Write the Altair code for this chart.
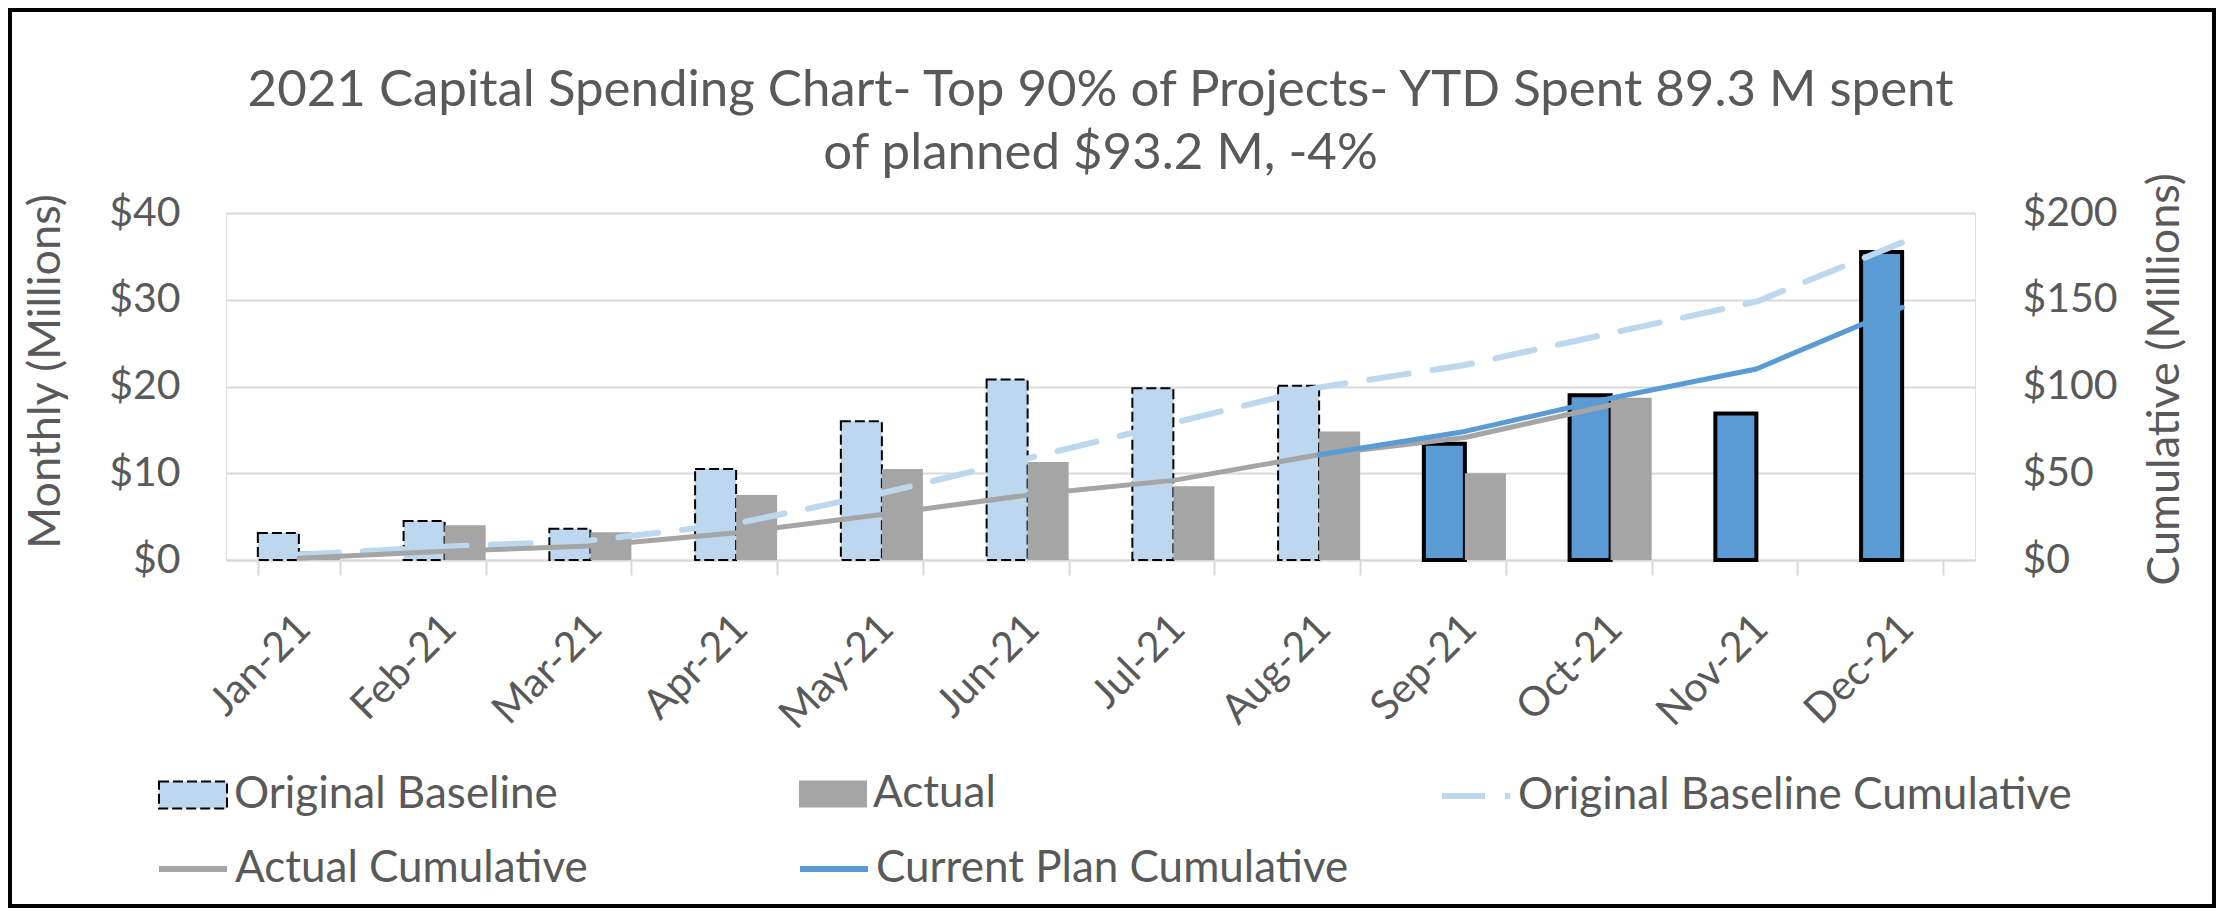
import altair as alt
import pandas as pd

# ---------------- data ----------------
months = ["Jan-21", "Feb-21", "Mar-21", "Apr-21", "May-21", "Jun-21",
          "Jul-21", "Aug-21", "Sep-21", "Oct-21", "Nov-21", "Dec-21"]

original_baseline = [3.1, 4.5, 3.6, 10.5, 16.0, 20.8, 19.8, 20.1, None, None, None, None]
current_plan = [None, None, None, None, None, None, None, None, 13.4, 19.0, 16.9, 35.5]
actual = [1.0, 4.0, 3.2, 7.5, 10.5, 11.3, 8.5, 14.8, 10.0, 18.7, None, None]

original_baseline_cum = [3.1, 7.6, 11.2, 21.0, 38.5, 58.6, 79.0, 99.5, 112.4, 130.7, 148.9, 183.0]
actual_cum = [1.0, 5.0, 8.1, 15.7, 26.2, 37.4, 45.9, 60.7, 70.6, 89.3, None, None]
current_plan_cum = [None, None, None, None, None, None, None, 60.7, 74.1, 93.2, 110.1, 145.6]

bar_series = ["Original Baseline", "Actual"]
bar_colors = ["#BDD7EE", "#A5A5A5"]
plan_bar_color = "#5B9BD5"
line_series = ["Original Baseline Cumulative", "Actual Cumulative", "Current Plan Cumulative"]
line_colors = ["#BDD7EE", "#A5A5A5", "#5B9BD5"]

left_ticks = [0, 10, 20, 30, 40]
right_ticks = [0, 50, 100, 150, 200]

title_lines = ["2021 Capital Spending Chart- Top 90% of Projects- YTD Spent 89.3 M spent",
               "of planned $93.2 M, -4%"]

# ---------------- tables ----------------
def table(values, name):
    return pd.DataFrame([{"month": m, "series": name, "value": v}
                         for m, v in zip(months, values) if v is not None])

df_ob = table(original_baseline, bar_series[0])
df_cp = table(current_plan, bar_series[0])
df_act = table(actual, bar_series[1])
df_obc = table(original_baseline_cum, line_series[0])
df_ac = table(actual_cum, line_series[1])
df_cpc = table(current_plan_cum, line_series[2])

# ---------------- style ----------------
TXT = "#595959"
GRID = "#D9D9D9"
FONT = "Lato"
W, H = 1749, 347
LEG_FS = 44

x_enc = alt.X(
    "month:N", sort=months,
    scale=alt.Scale(domain=months, paddingInner=0.437, paddingOuter=0.2185),
    axis=alt.Axis(title=None, labelAngle=-45, labelAlign="right", labelBaseline="middle",
                  labelPadding=47, labelOffset=5, labelFontSize=41, labelColor=TXT,
                  labelFont=FONT, domainColor=GRID, domainWidth=2, ticks=True,
                  tickBand="extent", tickColor=GRID, tickWidth=2, tickSize=15,
                  grid=False, labelOverlap=False),
)
xoff = alt.XOffset("series:N", scale=alt.Scale(domain=bar_series, paddingInner=0, paddingOuter=0))

y_left = alt.Y(
    "value:Q", scale=alt.Scale(domain=[0, 40], nice=False),
    axis=alt.Axis(orient="left", values=left_ticks, labelExpr="'$' + datum.value",
                  labelFontSize=41, labelColor=TXT, labelFont=FONT, labelPadding=46,
                  ticks=False, domain=False, grid=True, gridColor=GRID, gridWidth=2,
                  title="Monthly (Millions)", titleFontSize=45, titleColor=TXT,
                  titleFont=FONT, titleFontWeight="normal", titleAngle=270,
                  titleAlign="center", titleBaseline="middle", titleX=-181, titleY=158),
)
y_right = alt.Y(
    "value:Q", scale=alt.Scale(domain=[0, 200], nice=False),
    axis=alt.Axis(orient="right", values=right_ticks, labelExpr="'$' + datum.value",
                  labelFontSize=41, labelColor=TXT, labelFont=FONT, labelPadding=47,
                  ticks=False, domain=False, grid=False,
                  title="Cumulative (Millions)", titleFontSize=45, titleColor=TXT,
                  titleFont=FONT, titleFontWeight="normal", titleAngle=270,
                  titleAlign="center", titleBaseline="middle", titleX=189, titleY=166),
)

RECT = "M-1,-0.4H1V0.4H-1Z"
leg_common = dict(title=None, orient="none", direction="horizontal", symbolSize=4624,
                  symbolOffset=0, labelFontSize=LEG_FS, labelColor=TXT, labelFont=FONT,
                  labelLimit=900, padding=0, symbolOpacity=1)

legend_ob = alt.Legend(legendX=-68, legendY=547, symbolType=RECT, labelOffset=6,
                       symbolStrokeColor="#000000", symbolStrokeWidth=2,
                       symbolDash=[10, 4], **leg_common)
legend_act = alt.Legend(legendX=573, legendY=547, symbolType=RECT, labelOffset=6,
                        symbolStrokeColor="transparent", symbolStrokeWidth=0, **leg_common)
legend_obc = alt.Legend(legendX=1213, legendY=546, symbolType="stroke", labelOffset=5,
                        symbolStrokeWidth=6, symbolDash=[43, 20], **leg_common)
legend_ac = alt.Legend(legendX=-70, legendY=619, symbolType="stroke", labelOffset=5,
                       symbolStrokeWidth=6, **leg_common)
legend_cpc = alt.Legend(legendX=571, legendY=619, symbolType="stroke", labelOffset=5,
                        symbolStrokeWidth=6, **leg_common)

def fill_enc(i, legend):
    return alt.Fill("series:N", scale=alt.Scale(domain=[bar_series[i]], range=[bar_colors[i]]),
                    legend=legend)

def stroke_enc(i, legend):
    return alt.Stroke("series:N", scale=alt.Scale(domain=[line_series[i]], range=[line_colors[i]]),
                      legend=legend)

# ---------------- marks ----------------
frame = alt.Chart(alt.Data(values=[{"f": 1}])).mark_rect(
    filled=False, stroke="#000000", strokeWidth=4
).encode(x=alt.value(-216), x2=alt.value(1988), y=alt.value(-203), y2=alt.value(693))

bars_ob = alt.Chart(df_ob).mark_bar(stroke="#000000", strokeWidth=2, strokeDash=[10, 4]).encode(
    x=x_enc, xOffset=xoff, y=y_left, fill=fill_enc(0, legend_ob))
bars_cp = alt.Chart(df_cp).mark_bar(fill=plan_bar_color, stroke="#000000", strokeWidth=4).encode(
    x=x_enc, xOffset=xoff, y=y_left)
bars_act = alt.Chart(df_act).mark_bar().encode(
    x=x_enc, xOffset=xoff, y=y_left, fill=fill_enc(1, legend_act))

line_obc = alt.Chart(df_obc).mark_line(strokeWidth=6, strokeDash=[40, 24], strokeCap="round",
                                       strokeJoin="round").encode(
    x=x_enc, y=y_right, stroke=stroke_enc(0, legend_obc))
line_ac = alt.Chart(df_ac).mark_line(strokeWidth=5, strokeCap="round", strokeJoin="round").encode(
    x=x_enc, y=y_right, stroke=stroke_enc(1, legend_ac))
line_cpc = alt.Chart(df_cpc).mark_line(strokeWidth=5, strokeCap="round", strokeJoin="round").encode(
    x=x_enc, y=y_right, stroke=stroke_enc(2, legend_cpc))

bars = alt.layer(frame, bars_ob, bars_cp, bars_act).resolve_scale(fill="independent")
lines = alt.layer(line_obc, line_ac, line_cpc).resolve_scale(stroke="independent")

chart = alt.layer(bars, lines).resolve_scale(
    y="independent", fill="independent", stroke="independent"
).properties(
    width=W, height=H,
    autosize=alt.AutoSizeParams(type="none"),
    padding={"left": 218, "top": 205, "right": 241, "bottom": 348},
    title=alt.TitleParams(text=title_lines, fontSize=51, font=FONT, color=TXT,
                          fontWeight="normal", anchor="middle", frame="group",
                          lineHeight=63, offset=0, dy=172),
    background="white",
).configure_view(stroke=None).configure(font=FONT)

chart.save("out.html", embed_options={"renderer": "svg", "actions": False})
